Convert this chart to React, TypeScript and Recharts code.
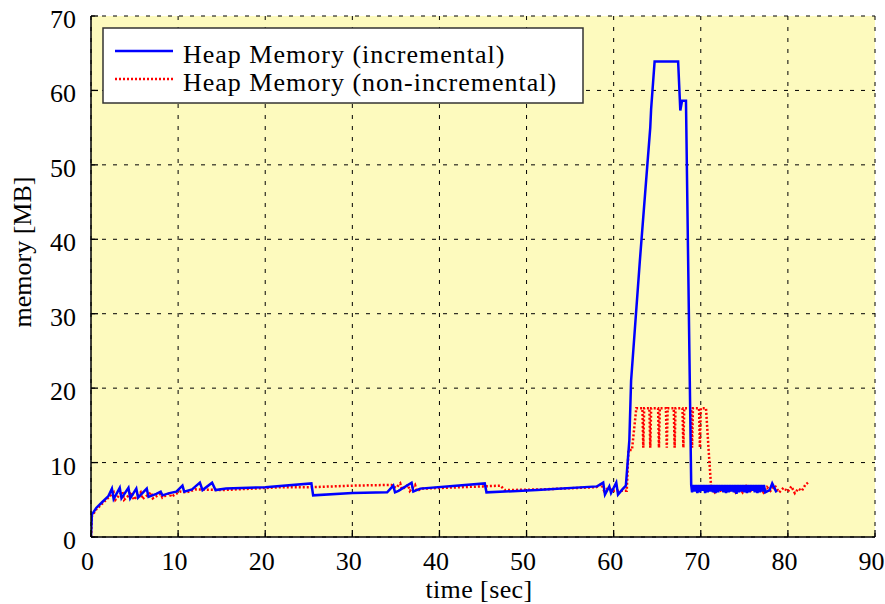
import { LineChart, Line, XAxis, YAxis, CartesianGrid, Legend } from 'recharts';

// incremental collector: time [sec] / heap [MB]
const incTime = [
  0, 0.1, 0.6, 1.3, 2.0, 2.4, 2.6, 3.3, 3.5, 4.3, 4.5, 5.2, 5.4, 6.4, 6.6, 7.5, 8.0, 8.2, 9.0, 9.8,
  10.5, 10.7, 11.6, 12.5, 12.8, 13.9, 14.3, 15.5, 20, 25.3, 25.5, 30, 34.0, 34.7, 34.9, 35.3, 36.8, 37.0, 37.8,
  45.2, 45.4, 51.2, 58.1, 58.8, 59.0, 59.5, 59.7, 60.3, 60.5, 61.0, 61.4, 61.8, 62.0, 63.0, 64.2, 64.3, 64.7,
  67.4, 67.65, 67.85, 68.3, 68.9,
  69.0, 69.15, 69.3, 69.45, 69.6, 69.75, 69.9, 70.05, 70.2, 70.35,
  70.5, 70.65, 70.8, 70.95, 71.1, 71.25, 71.4, 71.55, 71.7, 71.85,
  72.0, 72.15, 72.3, 72.45, 72.6, 72.75, 72.9, 73.05, 73.2, 73.35,
  73.5, 73.65, 73.8, 73.95, 74.1, 74.25, 74.4, 74.55, 74.7, 74.85,
  75.0, 75.15, 75.3, 75.45, 75.6, 75.75, 75.9, 76.05, 76.2, 76.35,
  76.5, 76.65, 76.8, 76.95, 77.1, 77.25, 77.4,
  77.9, 78.2, 78.7,
];
const incMem = [
  0, 3.0, 3.9, 4.7, 5.5, 6.5, 5.1, 6.6, 5.2, 6.6, 5.2, 6.5, 5.3, 6.5, 5.4, 5.8, 6.1, 5.6, 5.9, 6.1,
  6.9, 6.1, 6.4, 7.3, 6.3, 7.3, 6.3, 6.5, 6.7, 7.2, 5.6, 5.9, 6.0, 6.9, 6.0, 6.2, 7.3, 6.1, 6.5,
  7.2, 6.0, 6.3, 6.8, 7.3, 5.7, 6.8, 5.9, 7.3, 5.7, 6.4, 6.9, 13, 21, 37, 55, 57.5, 63.9,
  63.9, 57.3, 58.6, 58.6, 7.0,
  6.0, 7.0, 6.1, 7.0, 5.9, 7.0, 6.0, 7.0, 6.2, 7.0,
  5.9, 7.0, 6.0, 7.0, 6.1, 7.0, 6.0, 7.0, 5.9, 7.0,
  6.0, 7.0, 6.2, 7.0, 6.0, 7.0, 5.9, 7.0, 6.0, 7.0,
  6.1, 7.0, 6.0, 7.0, 5.8, 7.0, 6.0, 7.0, 6.1, 7.0,
  6.0, 7.0, 5.9, 7.0, 6.0, 7.0, 6.2, 7.0, 6.0, 7.0,
  5.9, 7.0, 6.0, 7.0, 6.1, 7.0, 6.0,
  6.3, 7.2, 6.0,
];

// non-incremental collector
const nonIncTime = [
  0, 0.1, 0.6, 1.3, 2.0, 2.6, 2.8, 3.6, 3.8, 4.7, 4.9, 5.7, 5.9, 6.9, 7.1, 8.0, 8.2, 9.0, 9.2, 10.2,
  11.0, 12.0, 15, 22, 25.5, 30, 34.5, 35.0, 35.5, 35.7, 36.4, 36.6, 37.2, 37.4, 38.0, 45, 47, 47.5, 52,
  58, 58.6, 58.9, 59.4, 60.0, 61.5, 61.7, 62.1, 62.6,
  63.3, 63.4, 63.5, 64.1, 64.2, 64.3, 65.1, 65.2, 65.3, 66.0, 66.1, 66.2, 66.9, 67.0, 67.1,
  67.9, 68.0, 68.1, 68.9, 69.0, 69.1, 69.8, 69.9, 70.0, 70.6, 70.9, 71.2,
  71.6, 72.0, 72.4, 72.8, 73.2, 73.6, 74.0, 74.4, 74.8, 75.2, 75.6, 76.0, 76.4, 76.8, 77.2, 77.6,
  78.0, 78.5, 79.0, 79.5, 80.0, 80.4, 80.8, 81.2, 81.6, 82.0, 82.3,
];
const nonIncMem = [
  0, 2.8, 3.7, 4.5, 5.3, 6.0, 5.0, 6.1, 5.0, 6.0, 5.0, 6.0, 5.1, 6.0, 5.2, 5.8, 5.3, 5.9, 5.4, 6.1,
  6.0, 6.4, 6.3, 6.7, 6.7, 6.9, 7.0, 6.6, 7.2, 6.4, 7.0, 6.2, 7.0, 6.2, 6.5, 6.8, 6.9, 6.3, 6.4,
  6.7, 7.1, 6.2, 6.6, 6.2, 6.2, 11.7, 11.7, 17.3,
  17.3, 12.0, 17.3, 17.3, 12.0, 17.3, 17.3, 12.0, 17.3, 17.3, 12.0, 17.3, 17.3, 12.0, 17.3,
  17.3, 12.0, 17.3, 17.3, 12.0, 17.3, 17.3, 12.0, 17.3, 17.3, 11.7, 6.5,
  6.0, 6.8, 6.0, 6.7, 6.0, 6.8, 6.0, 6.7, 6.0, 6.8, 6.0, 6.7, 6.0, 6.8, 6.0, 6.7,
  6.2, 6.9, 6.0, 6.6, 6.1, 6.8, 5.9, 6.5, 6.2, 7.0, 7.3,
];

const xTicks = [0, 10, 20, 30, 40, 50, 60, 70, 80, 90];
const yTicks = [0, 10, 20, 30, 40, 50, 60, 70];

const incData = incTime.map((t, i) => ({ t, m: incMem[i] }));
const nonIncData = nonIncTime.map((t, i) => ({ t, m: nonIncMem[i] }));

const FONT = '"Liberation Serif", "Times New Roman", serif';
const BG = '#fdfabe';

const BottomTick = ({ x, y, payload }: any) => (
  <g>
    <line x1={x} y1={y} x2={x} y2={y - 7} stroke="#000" strokeWidth={1.3} />
    <text x={x - 3.5} y={y + 33} textAnchor="middle" fontFamily={FONT} fontSize={26} fill="#000">
      {payload.value}
    </text>
  </g>
);

const TopTick = ({ x, y }: any) => (
  <line x1={x} y1={y} x2={x} y2={y + 7} stroke="#000" strokeWidth={1.3} />
);

const LeftTick = ({ x, y, payload }: any) => (
  <g>
    <line x1={x} y1={y} x2={x + 7} y2={y} stroke="#000" strokeWidth={1.3} />
    <text x={x - 15} y={y + 12} textAnchor="end" fontFamily={FONT} fontSize={26} fill="#000">
      {payload.value}
    </text>
  </g>
);

const RightTick = ({ x, y }: any) => (
  <line x1={x} y1={y} x2={x - 7} y2={y} stroke="#000" strokeWidth={1.3} />
);

const LegendBox = () => (
  <svg width={482} height={77} style={{ display: 'block' }}>
    <rect x={1} y={1} width={480} height={75} fill="#fff" stroke="#333" strokeWidth={1.5} />
    <line x1={13} y1={24} x2={71} y2={24} stroke="#0000ff" strokeWidth={2.5} />
    <text x={81} y={36} fontFamily={FONT} fontSize={26} letterSpacing={1} fill="#000">
      Heap Memory (incremental)
    </text>
    <line x1={13} y1={52} x2={71} y2={52} stroke="#ff0000" strokeWidth={2.5} strokeDasharray="2 2" />
    <text x={81} y={64} fontFamily={FONT} fontSize={26} letterSpacing={1} fill="#000">
      Heap Memory (non-incremental)
    </text>
  </svg>
);

export default function App() {
  return (
    <div style={{ position: 'absolute', left: 0, top: 0, width: 885, height: 604, background: '#fff' }}>
      <LineChart width={885} height={604} margin={{ top: 16, right: 10, bottom: 0, left: 0 }}>
        <CartesianGrid fill={BG} fillOpacity={1} stroke="#000" strokeDasharray="4 7" strokeWidth={1} />
        <XAxis
          dataKey="t"
          type="number"
          domain={[0, 90]}
          ticks={xTicks}
          interval={0}
          allowDataOverflow
          height={67}
          axisLine={{ stroke: '#000', strokeWidth: 1.5 }}
          tickLine={false}
          tickSize={0}
          tickMargin={0}
          tick={BottomTick}
          label={() => (
            <text x={479} y={598} textAnchor="middle" fontFamily={FONT} fontSize={26} letterSpacing={0.4} fill="#000">
              time [sec]
            </text>
          )}
        />
        <XAxis
          xAxisId="top"
          orientation="top"
          type="number"
          domain={[0, 90]}
          ticks={xTicks}
          interval={0}
          allowDataOverflow
          height={0}
          axisLine={{ stroke: '#000', strokeWidth: 1.5 }}
          tickLine={false}
          tickSize={0}
          tickMargin={0}
          tick={TopTick}
        />
        <YAxis
          type="number"
          domain={[0, 70]}
          ticks={yTicks}
          interval={0}
          allowDataOverflow
          width={91}
          axisLine={{ stroke: '#000', strokeWidth: 1.5 }}
          tickLine={false}
          tickSize={0}
          tickMargin={0}
          tick={LeftTick}
          label={() => (
            <text transform="translate(31,252) rotate(-90)" textAnchor="middle" fontFamily={FONT} fontSize={26} fill="#000">
              memory [MB]
            </text>
          )}
        />
        <YAxis
          yAxisId="right"
          orientation="right"
          type="number"
          domain={[0, 70]}
          ticks={yTicks}
          interval={0}
          allowDataOverflow
          width={0}
          axisLine={{ stroke: '#000', strokeWidth: 1.5 }}
          tickLine={false}
          tickSize={0}
          tickMargin={0}
          tick={RightTick}
        />
        <Legend
          layout="vertical"
          align="center"
          verticalAlign="middle"
          wrapperStyle={{ left: 102, top: 27, width: 482, height: 77 }}
          content={() => <LegendBox />}
        />
        <Line
          data={nonIncData}
          dataKey="m"
          type="linear"
          stroke="#ff0000"
          strokeWidth={2.5}
          strokeDasharray="2 2"
          dot={false}
          activeDot={false}
          isAnimationActive={false}
        />
        <Line
          data={incData}
          dataKey="m"
          type="linear"
          stroke="#0000ff"
          strokeWidth={2.5}
          dot={false}
          activeDot={false}
          isAnimationActive={false}
        />
      </LineChart>
    </div>
  );
}
